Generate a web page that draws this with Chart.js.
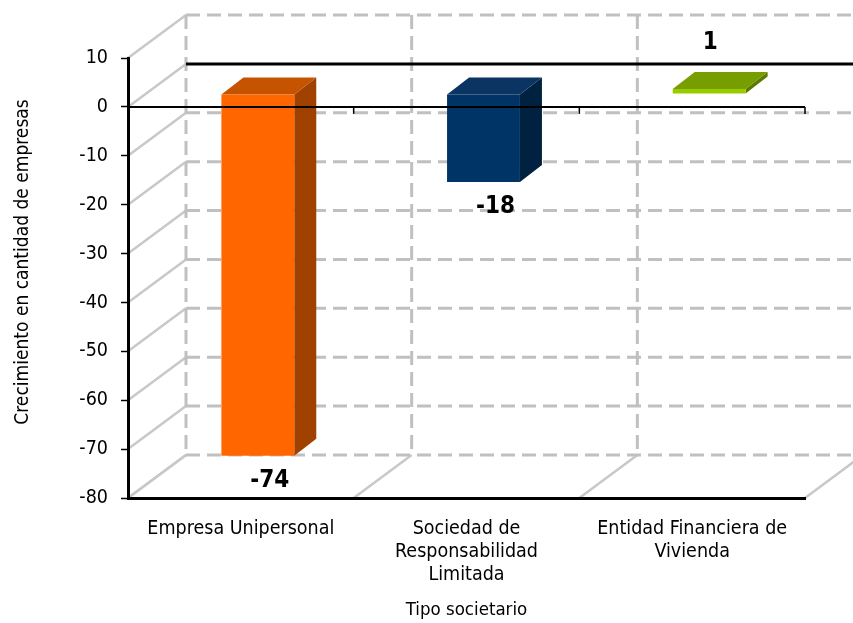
<!DOCTYPE html>
<html><head><meta charset="utf-8">
<script src="https://cdn.jsdelivr.net/npm/chart.js@4.4.1/dist/chart.umd.min.js"></script>
<style>html,body{margin:0;padding:0;background:#fff;overflow:hidden}canvas{display:block}</style>
</head><body>
<canvas id="c" width="853" height="623"></canvas>
<script>
// ---- data ----
const categories = [['Empresa Unipersonal'], ['Sociedad de', 'Responsabilidad', 'Limitada'], ['Entidad Financiera de', 'Vivienda']];
const values = [-74, -18, 1];
const yMin = -80, yMax = 10, yStep = 10;
const yTitle = 'Crecimiento en cantidad de empresas';
const xTitle = 'Tipo societario';

// ---- style ----
const frontColors = ['#FF6600', '#003366', '#99CC00'];
const topColors = ['#C65300', '#0B3463', '#779E00'];
const sideColors = ['#A04100', '#00213F', '#5A7A00'];
const NARROW = "'Liberation Sans Narrow','Arial Narrow','DejaVu Sans Condensed',sans-serif";
const WALL = {dx: 58, dy: -43};
const BAR = {fx: 17, fy: -13, dx: 22, dy: -17};

function line(ctx, x1, y1, x2, y2) { ctx.beginPath(); ctx.moveTo(x1, y1); ctx.lineTo(x2, y2); ctx.stroke(); }
function poly(ctx, pts, color) {
  ctx.beginPath(); ctx.moveTo(pts[0][0], pts[0][1]);
  for (let i = 1; i < pts.length; i++) ctx.lineTo(pts[i][0], pts[i][1]);
  ctx.closePath(); ctx.fillStyle = color; ctx.fill();
}
function bounds(chart) {
  const x = chart.scales.x, n = chart.data.labels.length, out = [];
  const half = (x.getPixelForValue(1) - x.getPixelForValue(0)) / 2;
  out.push(x.getPixelForValue(0) - half);
  for (let i = 0; i < n; i++) out.push(x.getPixelForValue(i) + half);
  return out;
}

const threeD = {
  id: 'threeD',
  beforeDraw(chart) {
    const {ctx, chartArea: a, scales: {y}} = chart;
    const tv = y.ticks.map(t => t.value);
    const bs = bounds(chart);
    const dx = WALL.dx, dy = WALL.dy;
    ctx.save();
    ctx.strokeStyle = '#c8c8c8'; ctx.lineWidth = 2.5;
    tv.forEach(v => { const py = y.getPixelForValue(v); line(ctx, a.left, py, a.left + dx, py + dy); });
    bs.forEach(bx => line(ctx, bx, a.bottom, bx + dx, a.bottom + dy));
    ctx.setLineDash([14, 7]); ctx.strokeStyle = '#c0c0c0'; ctx.lineWidth = 3;
    tv.forEach(v => { if (v === 0) return; const py = y.getPixelForValue(v); line(ctx, a.left + dx, py + dy, a.right + dx, py + dy); });
    bs.forEach(bx => line(ctx, bx + dx, a.top + dy, bx + dx, a.bottom + dy));
    ctx.setLineDash([]); ctx.strokeStyle = '#000'; ctx.lineWidth = 3;
    const y0 = y.getPixelForValue(0);
    line(ctx, a.left + dx, y0 + dy, a.right + dx, y0 + dy);
    ctx.restore();
  },
  beforeDatasetDraw(chart, args) {
    const ctx = chart.ctx;
    args.meta.data.forEach((el, i) => {
      const p = el.getProps(['x', 'y', 'base', 'width'], true);
      const l = p.x - p.width / 2 + BAR.fx, r = p.x + p.width / 2 + BAR.fx;
      const t = Math.min(p.y, p.base) + BAR.fy, b = Math.max(p.y, p.base) + BAR.fy;
      poly(ctx, [[r, t], [r + BAR.dx, t + BAR.dy], [r + BAR.dx, b + BAR.dy], [r, b]], sideColors[i]);
      poly(ctx, [[l, t], [l + BAR.dx, t + BAR.dy], [r + BAR.dx, t + BAR.dy], [r, t]], topColors[i]);
    });
    ctx.save();
    ctx.translate(BAR.fx, BAR.fy);
  },
  afterDatasetDraw(chart) { chart.ctx.restore(); },
  afterDatasetsDraw(chart) {
    const {ctx, chartArea: a, scales: {y}} = chart;
    const y0 = y.getPixelForValue(0);
    ctx.save();
    ctx.strokeStyle = '#000'; ctx.lineWidth = 2;
    line(ctx, a.left, y0, a.right, y0);
    ctx.lineWidth = 1.5;
    bounds(chart).slice(1).forEach(bx => line(ctx, bx, y0, bx, y0 + 7));
    // data labels
    ctx.fillStyle = '#000';
    ctx.font = "bold 24px " + NARROW;
    ctx.textAlign = 'center'; ctx.textBaseline = 'middle';
    chart.getDatasetMeta(0).data.forEach((el, i) => {
      const v = values[i];
      const p = el.getProps(['x', 'y', 'base'], true);
      if (v < 0) ctx.fillText(String(v), p.x + BAR.fx + 12, p.y + BAR.fy + 25);
      else ctx.fillText(String(v), p.x + BAR.fx + 1, p.y + BAR.fy - 46);
    });
    // y axis title
    ctx.font = "19px " + NARROW;
    ctx.translate(23, 262); ctx.rotate(-Math.PI / 2);
    ctx.fillText(yTitle, 0, 0);
    ctx.restore();
  }
};

new Chart(document.getElementById('c'), {
  type: 'bar',
  data: {
    labels: categories,
    datasets: [{
      data: values,
      backgroundColor: frontColors,
      borderWidth: 0,
      categoryPercentage: 1,
      barPercentage: 0.323,
      clip: false
    }]
  },
  options: {
    responsive: false,
    animation: false,
    devicePixelRatio: 1,
    layout: {padding: {left: 0, right: 48, top: 58, bottom: 0}},
    plugins: {legend: {display: false}, tooltip: {enabled: false}},
    scales: {
      x: {
        type: 'category',
        offset: true,
        afterFit: s => { s.height = 125; },
        grid: {display: false, drawTicks: false},
        border: {display: true, color: '#000', width: 3},
        ticks: {color: '#000', font: {family: NARROW, size: 19.5, lineHeight: 1.18}, padding: 19, maxRotation: 0, autoSkip: false},
        title: {display: true, text: xTitle, color: '#000', font: {family: NARROW, size: 18.5}, padding: {top: 0, bottom: 2}}
      },
      y: {
        min: yMin, max: yMax,
        afterFit: s => { s.width = 128; },
        ticks: {stepSize: yStep, color: '#000', font: {family: NARROW, size: 19.5}, padding: 13},
        grid: {drawOnChartArea: false, drawTicks: true, tickLength: 7, tickColor: '#000', tickWidth: 1.5},
        border: {display: true, color: '#000', width: 3}
      }
    }
  },
  plugins: [threeD]
});
</script>
</body></html>
